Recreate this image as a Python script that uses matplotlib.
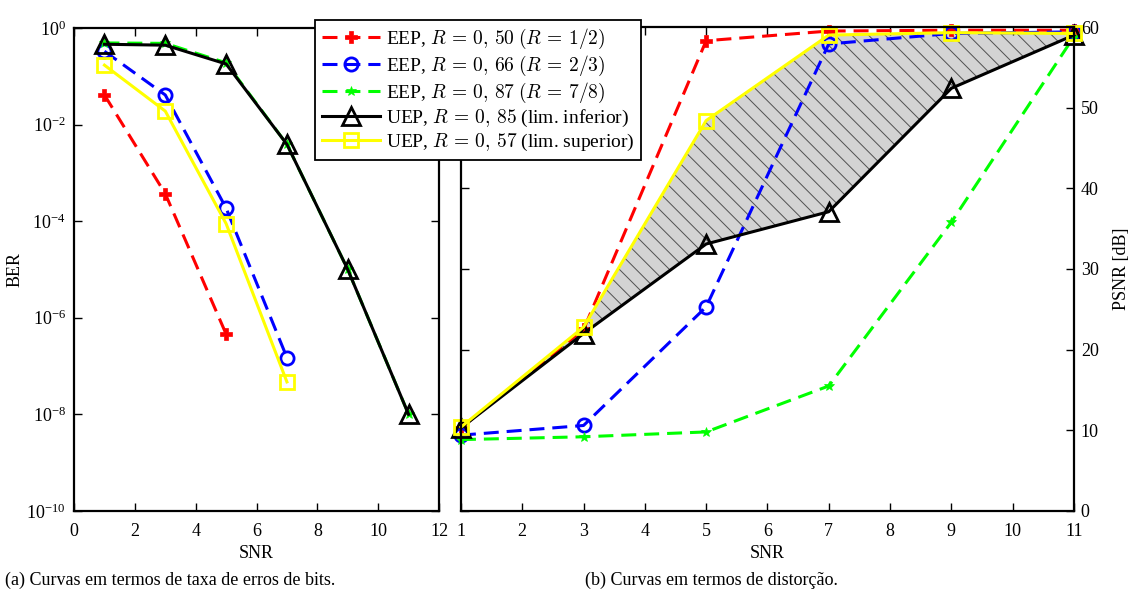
import numpy as np
import matplotlib
matplotlib.use("Agg")
import matplotlib.pyplot as plt
from matplotlib.ticker import NullLocator

plt.rcParams['font.family'] = ['Liberation Serif', 'DejaVu Serif']
plt.rcParams['mathtext.fontset'] = 'stix'
plt.rcParams['hatch.linewidth'] = 0.7

# SNR points
snr = [1, 3, 5, 7, 9, 11]

# BER curves (left)
ber_eep50 = [4.1e-2, 3.7e-4, 4.6e-7]
ber_eep66 = [3.3e-1, 4.1e-2, 1.86e-4, 1.5e-7]
ber_eep87 = [4.9e-1, 4.8e-1, 1.9e-1, 3.9e-3, 1.0e-5, 1.0e-8]
ber_uep85 = [4.6e-1, 4.4e-1, 1.8e-1, 3.9e-3, 1.0e-5, 1.0e-8]
ber_uep57 = [1.7e-1, 1.9e-2, 8.9e-5, 4.7e-8]

# PSNR curves (right)
psnr_eep50 = [10.3, 22.5, 58.3, 59.5, 59.6, 59.6]
psnr_eep66 = [9.4, 10.6, 25.3, 57.9, 59.2, 59.4]
psnr_eep87 = [8.85, 9.2, 9.8, 15.5, 35.8, 58.8]
psnr_uep85 = [10.3, 22.0, 33.1, 37.1, 52.4, 59.0]
psnr_uep57 = [10.4, 22.8, 48.4, 59.0, 59.3, 59.2]

labels = [r'EEP, $R\,=\,0,\,50\;(R\,=\,1/2)$',
          r'EEP, $R\,=\,0,\,66\;(R\,=\,2/3)$',
          r'EEP, $R\,=\,0,\,87\;(R\,=\,7/8)$',
          r'UEP, $R\,=\,0,\,85$ (lim. inferior)',
          r'UEP, $R\,=\,0,\,57$ (lim. superior)']

dash = (4.9, 2.6)
styles = [
    dict(color='red', ls='--', dashes=dash, marker='P', ms=8, mfc='red', mew=0.5),
    dict(color='blue', ls='--', dashes=dash, marker='o', ms=9.5, mfc='none', mew=2),
    dict(color='#00ff00', ls='--', dashes=dash, marker='*', ms=7, mfc='#00ff00', mew=0.5),
    dict(color='black', ls='-', marker='^', ms=12.5, mfc='none', mew=2),
    dict(color='yellow', ls='-', marker='s', ms=10, mfc='none', mew=2),
]

fig = plt.figure(figsize=(11.32, 5.95), dpi=100)
ax1 = fig.add_axes([0.0654, 0.1412, 0.3224, 0.8118])
ax2 = fig.add_axes([0.4072, 0.1412, 0.5415, 0.8134])

ber = [ber_eep50, ber_eep66, ber_eep87, ber_uep85, ber_uep57]
psnr = [psnr_eep50, psnr_eep66, psnr_eep87, psnr_uep85, psnr_uep57]

handles = []
for y, st, lab in zip(ber, styles, labels):
    h, = ax1.plot(snr[:len(y)], y, lw=2.2, label=lab, **st)
    handles.append(h)

ax1.set_yscale('log')
ax1.set_xlim(0, 12)
ax1.set_ylim(1e-10, 1)
ax1.set_xticks(range(0, 13, 2))
ax1.set_yticks([1e-10, 1e-8, 1e-6, 1e-4, 1e-2, 1])
ax1.yaxis.set_minor_locator(NullLocator())
ax1.set_xlabel('SNR', fontsize=13, labelpad=3)
ax1.set_ylabel('BER', fontsize=13, labelpad=2)

ax2.fill_between(snr, psnr_uep85, psnr_uep57, facecolor='#d3d3d3',
                 edgecolor='#505050', hatch='\\\\', linewidth=0, zorder=1)
for y, st in zip(psnr, styles):
    ax2.plot(snr, y, lw=2.2, zorder=2, clip_on=False, **st)

ax2.set_xlim(1, 11)
ax2.set_ylim(0, 60)
ax2.set_xticks(range(1, 12))
ax2.set_yticks(range(0, 61, 10))
ax2.yaxis.tick_right()
ax2.yaxis.set_label_position('right')
ax2.set_xlabel('SNR', fontsize=13, labelpad=3)
ax2.set_ylabel('PSNR [dB]', fontsize=13, labelpad=10)

for ax in (ax1, ax2):
    ax.tick_params(direction='in', top=True, right=True, left=True,
                   labelsize=13, length=6, width=1)
    ax.tick_params(axis='x', pad=9)
    for sp in ax.spines.values():
        sp.set_linewidth(1.6)
ax1.tick_params(axis='y', pad=6)
ax2.tick_params(axis='y', labelleft=False, labelright=True, pad=5)

leg = fig.legend(handles=handles, loc='upper left',
                 bbox_to_anchor=(0.2783, 0.9664), borderaxespad=0,
                 fontsize=14, fancybox=False, edgecolor='black',
                 framealpha=1, handlelength=3.0, labelspacing=0.15,
                 borderpad=0.35, handletextpad=0.3)
leg.get_frame().set_linewidth(1.3)
for t in leg.get_texts():
    t.set_math_fontfamily('cm')

fig.text(0.004, 0.025, '(a) Curvas em termos de taxa de erros de bits.',
         fontsize=13, va='center')
fig.text(0.517, 0.025, '(b) Curvas em termos de distorção.',
         fontsize=13, va='center')

fig.savefig('out.png', dpi=100)
